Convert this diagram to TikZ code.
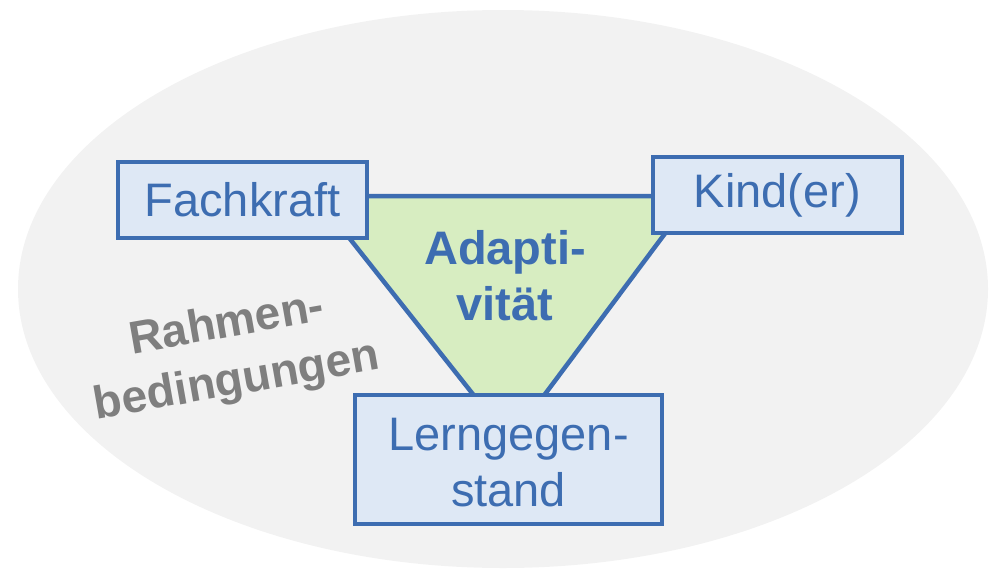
\documentclass[tikz,border=0pt]{standalone}
\usepackage{fontspec}
\setmainfont{Liberation Sans}
\definecolor{bl}{HTML}{3D6DB1}
\definecolor{boxfill}{HTML}{DEE8F5}
\definecolor{gr}{HTML}{D7EDC1}
\definecolor{bg}{HTML}{F2F2F2}
\definecolor{gy}{HTML}{7F7F7F}
\begin{document}
\begin{tikzpicture}[x=1pt,y=-1pt,
  itembox/.style={draw=bl,line width=3.5pt,fill=boxfill,text=bl,align=center,inner sep=0pt,
    font=\fontsize{47}{56}\selectfont},
]
\useasboundingbox (0,0) rectangle (990,570);
\fill[bg] (503,289) ellipse [x radius=485, y radius=279];
\coordinate (tl) at (316,196);
\coordinate (tr) at (693,196);
\coordinate (ap) at (510,441);
\draw[bl,fill=gr,line width=4.5pt,line join=miter] (tl) -- (tr) -- (ap) -- cycle;
\node[itembox,minimum width=249pt,minimum height=76pt] (fk) at (242.5,200) {Fachkraft};
\node[itembox,minimum width=249pt,minimum height=76pt] (kd) at (777.5,195) {Kind(er)};
\node[itembox,minimum width=307pt,minimum height=129pt] (lg) at (508.5,459.5) {};
\node[text=bl,font=\fontsize{47}{56}\selectfont,align=center] (lgt) at (508.5,463) {Lerngegen-\\stand};
\node[text=bl,font=\bfseries\fontsize{47}{56}\selectfont,align=center] (ad) at (505,276) {Adapti-\\vität};
\node[text=gy,font=\bfseries\fontsize{46}{58}\selectfont,align=center,rotate=10] (rb) at (232,354) {Rahmen-\\bedingungen};
\end{tikzpicture}
\end{document}
